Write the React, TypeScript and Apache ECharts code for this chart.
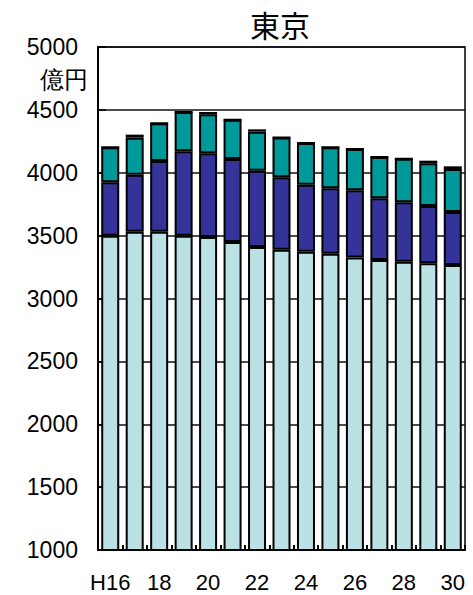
import React, { useEffect, useRef } from "react";
import * as echarts from "echarts";

const categories = ["H16", "17", "18", "19", "20", "21", "22", "23", "24", "25", "26", "27", "28", "29", "30"];
const seriesA = [3500, 3531, 3531, 3500, 3489, 3449, 3410, 3387, 3372, 3356, 3326, 3306, 3293, 3280, 3266];
const seriesB = [424, 454, 563, 671, 666, 660, 606, 578, 533, 520, 534, 491, 472, 456, 422];
const seriesC = [278, 294, 299, 312, 310, 313, 311, 315, 332, 326, 329, 328, 347, 339, 342];
const seriesD = [0, 24, 0, 0, 18, 0, 18, 0, 0, 0, 0, 0, 0, 21, 21];
const titleText = "東京";
const unitText = "億円";

export default function App() {
  const ref = useRef<HTMLDivElement>(null);
  useEffect(() => {
    if (!ref.current) return;
    const chart = echarts.init(ref.current, undefined, { renderer: "svg" });
    const font = "Arial, 'Liberation Sans', 'Noto Sans CJK JP', sans-serif";
    const mk = (name: string, data: number[], color: string) => ({
      name,
      type: "bar",
      stack: "total",
      data,
      barWidth: 18,
      itemStyle: { color, borderColor: "#000", borderWidth: 2 },
    });
    chart.setOption({
      animation: false,
      textStyle: { fontFamily: font },
      title: {
        text: titleText,
        left: 275,
        textAlign: "center",
        top: 6,
        textStyle: { fontSize: 30, fontWeight: "normal", color: "#000", fontFamily: font },
      },
      graphic: [
        {
          type: "text",
          left: 40,
          top: 67,
          style: { text: unitText, fontSize: 24, fill: "#000", font: `24px ${font}` },
        },
      ],
      grid: {
        left: 98,
        right: 8,
        top: 47,
        bottom: 45,
        show: true,
        borderColor: "#000",
        borderWidth: 1.5,
      },
      xAxis: {
        type: "category",
        data: categories,
        axisLine: { lineStyle: { color: "#000", width: 2 } },
        axisTick: { show: true, inside: true, length: 5, interval: 0, lineStyle: { color: "#000", width: 2 } },
        axisLabel: { interval: 1, color: "#000", fontSize: 22, margin: 21, fontFamily: font },
      },
      yAxis: {
        type: "value",
        min: 1000,
        max: 5000,
        interval: 500,
        axisLine: { show: true, lineStyle: { color: "#000", width: 2 } },
        axisTick: { show: true, inside: true, length: 8, lineStyle: { color: "#000", width: 1.5 } },
        axisLabel: {
          color: "#000",
          fontSize: 23,
          margin: 20,
          fontFamily: font,
          formatter: (v: number) => String(v),
        },
        splitLine: { show: true, lineStyle: { color: "#111", width: 1.5 } },
      },
      series: [
        mk("a", seriesA, "#BAE1E3"),
        mk("b", seriesB, "#333399"),
        mk("c", seriesC, "#009999"),
        mk("d", seriesD, "#000000"),
      ],
    });
    return () => chart.dispose();
  }, []);
  return <div ref={ref} style={{ width: 473, height: 595, position: "absolute", left: 0, top: 0 }} />;
}
